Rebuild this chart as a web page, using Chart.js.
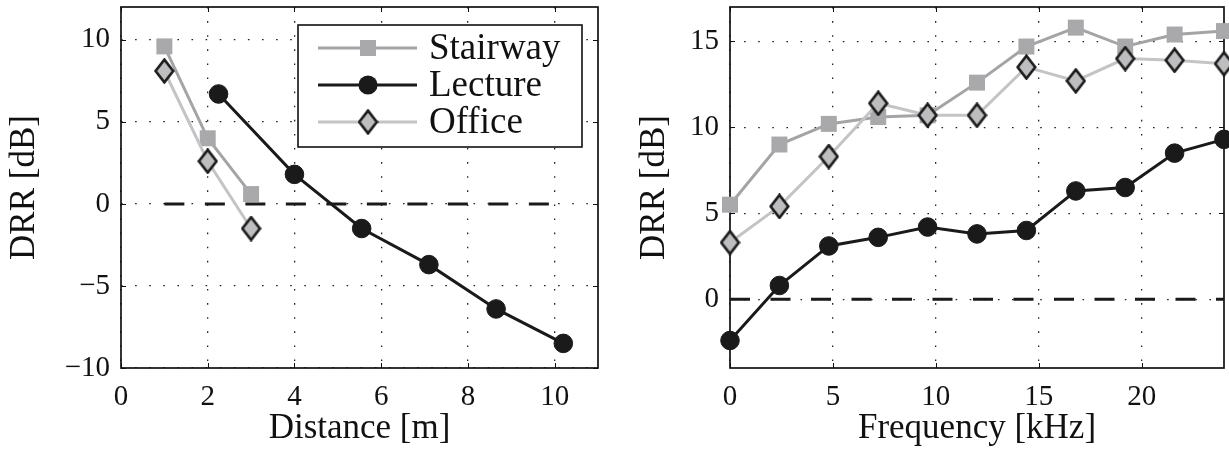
<!DOCTYPE html>
<html><head><meta charset="utf-8">
<script src="https://cdn.jsdelivr.net/npm/chart.js@4.4.0/dist/chart.umd.min.js"></script>
<style>html,body{margin:0;padding:0;background:#fff;overflow:hidden}canvas{position:absolute;top:0}</style>
</head><body>
<canvas id="c1" width="614" height="455" style="left:0"></canvas>
<canvas id="c2" width="615" height="455" style="left:614px"></canvas>
<script>
// ---- data ----
const seriesNames = ['Stairway', 'Lecture', 'Office'];
const distStairway = [1, 2, 3];
const drrDistStairway = [9.6, 4.0, 0.6];
const distLecture = [2.25, 4.0, 5.55, 7.1, 8.65, 10.2];
const drrDistLecture = [6.7, 1.8, -1.5, -3.7, -6.4, -8.5];
const distOffice = [1, 2, 3];
const drrDistOffice = [8.1, 2.6, -1.5];
const freqKHz = [0, 2.4, 4.8, 7.2, 9.6, 12, 14.4, 16.8, 19.2, 21.6, 24];
const drrFreqStairway = [5.5, 9.0, 10.2, 10.6, 10.7, 12.6, 14.7, 15.8, 14.7, 15.4, 15.6];
const drrFreqLecture = [-2.4, 0.8, 3.1, 3.6, 4.2, 3.8, 4.0, 6.3, 6.5, 8.5, 9.3];
const drrFreqOffice = [3.3, 5.4, 8.3, 11.4, 10.7, 10.7, 13.5, 12.7, 14.0, 13.9, 13.7];
const zeroLineDist = [1, 10];
const zeroLineFreq = [0, 24];
const distXTicks = [0, 2, 4, 6, 8, 10];
const distYTicks = [-10, -5, 0, 5, 10];
const freqXTicks = [0, 5, 10, 15, 20];
const freqYTicks = [0, 5, 10, 15];

// ---- styles ----
const FONT = '"Liberation Serif", "Times New Roman", serif';
const C_STAIR = '#a4a4a6';
const C_STAIR_M = '#a9a9ab';
const C_LECT = '#1a1a1a';
const C_OFF = '#c4c4c6';
const C_OFF_M = '#bebec0';

function makeDiamond() {
  const c = document.createElement('canvas');
  c.width = 21; c.height = 26;
  const g = c.getContext('2d');
  g.beginPath();
  g.moveTo(10.5, 1.6); g.lineTo(19.3, 13); g.lineTo(10.5, 24.4); g.lineTo(1.7, 13); g.closePath();
  g.fillStyle = C_OFF_M; g.fill();
  g.lineWidth = 2.6; g.strokeStyle = '#1c1c1c'; g.lineJoin = 'miter'; g.stroke();
  return c;
}
const diamond = makeDiamond();

const pts = (xs, ys) => xs.map((x, i) => ({x, y: ys[i]}));
const minus = v => String(v).replace('-', '\u2212');

function seriesSets(xS, yS, xL, yL, xO, yO, zx) {
  return [
    {label: seriesNames[2], data: pts(xO, yO), borderColor: C_OFF, borderWidth: 3,
     pointStyle: diamond, pointRadius: 10, order: 1, clip: false},
    {label: seriesNames[1], data: pts(xL, yL), borderColor: C_LECT, borderWidth: 3,
     pointStyle: 'circle', pointRadius: 9.3, pointBackgroundColor: C_LECT, pointBorderColor: C_LECT,
     pointBorderWidth: 1, order: 2, clip: false},
    {label: seriesNames[0], data: pts(xS, yS), borderColor: C_STAIR, borderWidth: 3,
     pointStyle: 'rect', pointRadius: 11.3, pointBackgroundColor: C_STAIR_M, pointBorderColor: C_STAIR_M,
     pointBorderWidth: 0, order: 3, clip: false},
    {label: 'zero', data: pts(zx, [0, 0]), borderColor: '#1a1a1a', borderWidth: 3,
     borderDash: [20, 20.5], pointRadius: 0, order: 0, clip: false}
  ];
}

const frame = {
  id: 'frame',
  beforeDatasetsDraw(chart) {
    const {ctx, chartArea: a, scales: {x, y}} = chart;
    ctx.save();
    ctx.strokeStyle = '#111';
    ctx.lineWidth = 1;
    const L = 5;
    const ln = (x1, y1, x2, y2) => { ctx.beginPath(); ctx.moveTo(x1, y1); ctx.lineTo(x2, y2); ctx.stroke(); };
    x.ticks.forEach(t => { const p = Math.round(x.getPixelForValue(t.value)) + 0.5; ln(p, a.bottom, p, a.bottom - L); ln(p, a.top, p, a.top + L); });
    y.ticks.forEach(t => { const p = Math.round(y.getPixelForValue(t.value)) + 0.5; ln(a.left, p, a.left + L, p); ln(a.right, p, a.right - L, p); });
    ctx.lineWidth = 1.7;
    ctx.strokeStyle = '#111';
    ctx.strokeRect(a.left, a.top, a.width, a.height);
    ctx.restore();
  }
};

const legendBox = {
  id: 'legendBox',
  afterDraw(chart) {
    const ctx = chart.ctx;
    ctx.save();
    const bx = 298, by = 25, bw = 284, bh = 122;
    ctx.fillStyle = '#fff';
    ctx.fillRect(bx, by, bw, bh);
    ctx.lineWidth = 1.6; ctx.strokeStyle = '#111';
    ctx.strokeRect(bx, by, bw, bh);
    const rows = [
      {name: seriesNames[0], y: 48, color: C_STAIR, m: 'rect'},
      {name: seriesNames[1], y: 85, color: C_LECT, m: 'circle'},
      {name: seriesNames[2], y: 122, color: C_OFF, m: 'diamond'}
    ];
    rows.forEach(r => {
      ctx.beginPath(); ctx.moveTo(318, r.y); ctx.lineTo(417, r.y);
      ctx.lineWidth = 3.2; ctx.strokeStyle = r.color; ctx.stroke();
      const mx = 368;
      if (r.m === 'rect') { ctx.fillStyle = C_STAIR_M; ctx.fillRect(mx - 8, r.y - 8, 16, 16); }
      else if (r.m === 'circle') { ctx.beginPath(); ctx.arc(mx, r.y, 9.6, 0, Math.PI * 2); ctx.fillStyle = C_LECT; ctx.fill(); }
      else { ctx.drawImage(diamond, mx - diamond.width / 2, r.y - diamond.height / 2); }
      ctx.fillStyle = '#111';
      ctx.font = '37px ' + FONT;
      ctx.textBaseline = 'middle';
      ctx.textAlign = 'left';
      ctx.fillText(r.name, 429, r.y + 1);
    });
    ctx.restore();
  }
};

function axisOpts(kind, min, max, tickArr, title, sizeFix, titlePad) {
  const horiz = kind === 'x';
  return {
    type: 'linear', position: horiz ? 'bottom' : 'left', min, max,
    afterBuildTicks: s => { s.ticks = tickArr.map(v => ({value: v})); },
    afterFit: s => {
      if (horiz) { s.height = sizeFix; s.paddingLeft = 0; s.paddingRight = 0; }
      else { s.width = sizeFix; s.paddingTop = 0; s.paddingBottom = 0; }
    },
    grid: {color: '#222', lineWidth: 1.3, drawTicks: false},
    border: {display: false, dash: [1.6, 12.5]},
    ticks: {color: '#111', font: {family: FONT, size: 29}, padding: horiz ? 12 : 11,
            maxRotation: 0, autoSkip: false, callback: v => minus(v)},
    title: {display: true, text: title, color: '#111', font: {family: FONT, size: 35},
            padding: horiz ? {top: 0, bottom: titlePad} : {top: titlePad, bottom: 0}}
  };
}

function baseOptions(xAx, yAx, pad) {
  return {
    responsive: false, animation: false, devicePixelRatio: 1,
    layout: {padding: pad, autoPadding: false},
    elements: {line: {tension: 0}},
    plugins: {legend: {display: false}, tooltip: {enabled: false}},
    scales: {x: xAx, y: yAx}
  };
}

new Chart(document.getElementById('c1'), {
  type: 'line',
  data: {datasets: seriesSets(distStairway, drrDistStairway, distLecture, drrDistLecture, distOffice, drrDistOffice, zeroLineDist)},
  options: baseOptions(
    axisOpts('x', 0, 11, distXTicks, 'Distance [m]', 87, 5),
    axisOpts('y', -10, 12, distYTicks, 'DRR [dB]', 121, 4),
    {left: 0, top: 7, right: 16, bottom: 0}),
  plugins: [frame, legendBox]
});

new Chart(document.getElementById('c2'), {
  type: 'line',
  data: {datasets: seriesSets(freqKHz, drrFreqStairway, freqKHz, drrFreqLecture, freqKHz, drrFreqOffice, zeroLineFreq)},
  options: baseOptions(
    axisOpts('x', 0, 24, freqXTicks, 'Frequency [kHz]', 87, 5),
    axisOpts('y', -4, 17, freqYTicks, 'DRR [dB]', 116, 20),
    {left: 0, top: 7, right: 5, bottom: 0}),
  plugins: [frame]
});
</script>
</body></html>
